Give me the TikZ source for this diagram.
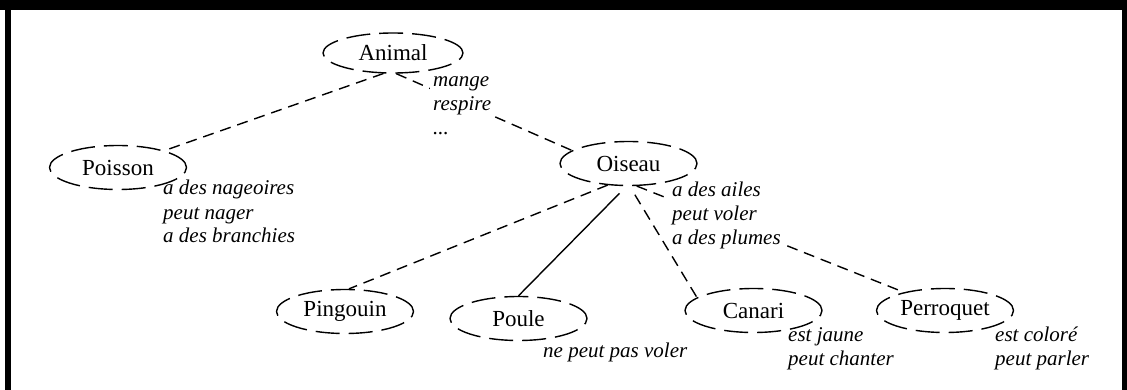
\documentclass[tikz,border=0pt]{standalone}
\usepackage{fontspec}
\setmainfont{Liberation Serif}
\usetikzlibrary{shapes.geometric}
\pgfdeclarelayer{links}
\pgfdeclarelayer{notes}
\pgfsetlayers{links,notes,main}
\begin{document}
\begin{tikzpicture}[x=1pt,y=-1pt,
  concept/.style={ellipse, draw, line width=1.4pt, dash pattern=on 24pt off 9pt,
    minimum width=137pt, minimum height=44pt, inner sep=0pt,
    font=\fontsize{23}{26}\selectfont},
  attrs/.style={anchor=base west, align=left, fill=white, inner sep=3pt,
    font=\fontsize{21}{24}\selectfont\itshape},
  link/.style={line width=1.4pt, dash pattern=on 11pt off 7pt},
  plainlink/.style={line width=1.4pt}]
\useasboundingbox (0,0) rectangle (1127,390);
% frame
\fill[black] (0,0) rectangle (1127,10);
\fill[black] (5,0) rectangle (11,390);
\fill[black] (1122,0) rectangle (1127,390);

% concepts
\node[concept, minimum width=140pt, minimum height=40pt] (animal) at (393,53) {Animal};
\node[concept] (poisson) at (118,167.5) {Poisson};
\node[concept] (oiseau) at (628.5,163.5) {Oiseau};
\node[concept] (pingouin) at (345,311.5) {Pingouin};
\node[concept] (poule) at (518.5,318.5) {Poule};
\node[concept] (canari) at (753.5,310.5) {Canari};
\node[concept] (perroquet) at (945,310.5) {Perroquet};

% properties (anchored on the baseline of their last line)
\begin{pgfonlayer}{notes}
\node[attrs] (animalattr) at (430,135) {mange\\respire\\...};
\node[attrs] (poissonattr) at (160,243) {a des nageoires\\peut nager\\a des branchies};
\node[attrs] (oiseauattr) at (669,244) {a des ailes\\peut voler\\a des plumes};
\node[attrs] (pouleattr) at (540,357) {ne peut pas voler};
\node[attrs] (canariattr) at (785,365) {est jaune\\peut chanter};
\node[attrs] (perroquetattr) at (992,365) {est coloré\\peut parler};
\end{pgfonlayer}

% links
\begin{pgfonlayer}{links}
\draw[link] (animal.245) -- (poisson.20);
\draw[link] (animal.279) -- (oiseau.167);
\draw[link] (oiseau.226) -- (pingouin.80);
\draw[plainlink, shorten <=10pt] (oiseau.265) -- (poule.north);
\draw[link, shorten <=10pt] (oiseau.273) -- (canari.167);
\draw[link] (oiseau.290) -- (perroquet.156);
\end{pgfonlayer}
\end{tikzpicture}
\end{document}
